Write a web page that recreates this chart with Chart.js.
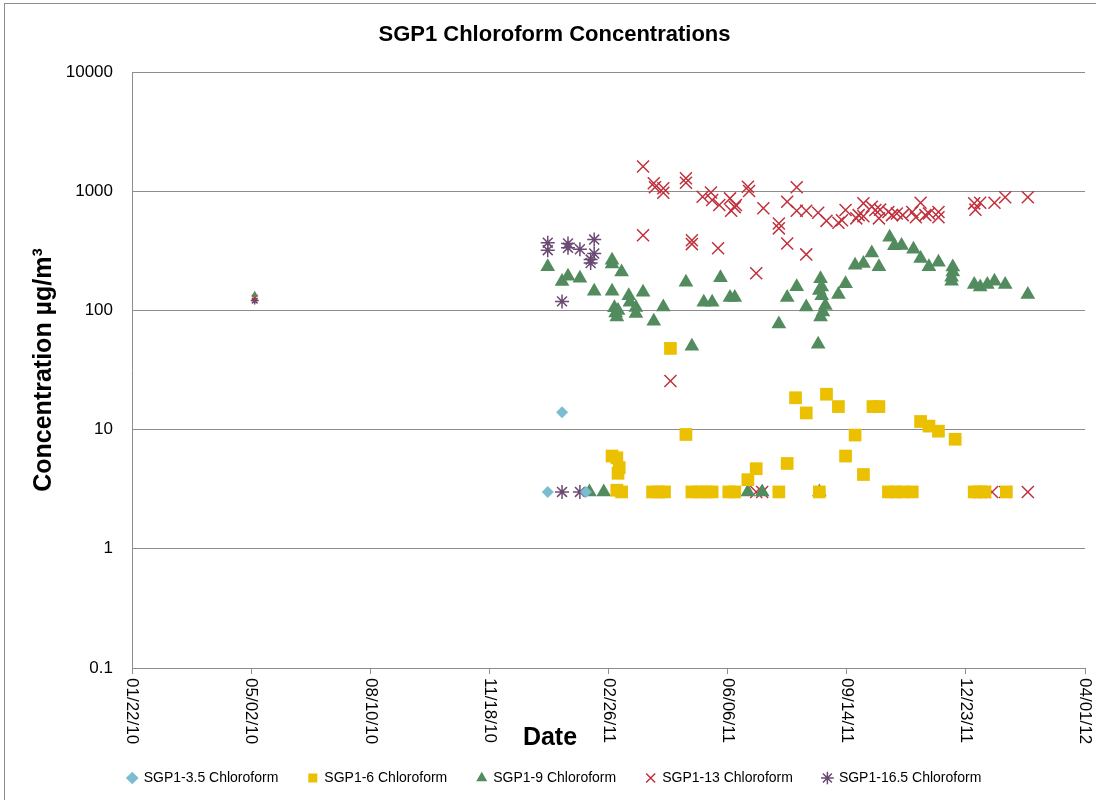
<!DOCTYPE html>
<html>
<head>
<meta charset="utf-8">
<script src="https://cdn.jsdelivr.net/npm/chart.js"></script>
<style>
  html, body { margin:0; padding:0; background:#fff; }
  #wrap { position:relative; width:1096px; height:800px; overflow:hidden; }
  #frame { position:absolute; left:4px; top:3px; width:1100px; height:800px; border:1px solid #8c8c8c; }
  canvas { position:absolute; left:0; top:0; }
</style>
</head>
<body>
<div id="wrap"><div id="frame"></div><canvas id="c" width="1096" height="800"></canvas></div>
<script>
// ---- data ----
const chartTitle = 'SGP1 Chloroform Concentrations';
const yTitle = 'Concentration µg/m³';
const xTitle = 'Date';
const yTicks = [0.1, 1, 10, 100, 1000, 10000];
const xFirst = '2010-01-22', xLast = '2012-04-01', xStepDays = 100;

const labels = ['SGP1-3.5 Chloroform', 'SGP1-6 Chloroform', 'SGP1-9 Chloroform', 'SGP1-13 Chloroform', 'SGP1-16.5 Chloroform'];

const d35 = ['2011-01-06', '2011-01-18', '2011-02-07'];
const v35 = [3, 14, 3];

const d6 = ['2011-03-01', '2011-03-05', '2011-03-07', '2011-03-06', '2011-03-05', '2011-03-09',
  '2011-04-04', '2011-04-09', '2011-04-14', '2011-04-19', '2011-05-02', '2011-05-07', '2011-05-13',
  '2011-05-19', '2011-05-24', '2011-06-07', '2011-06-12', '2011-06-23', '2011-06-30', '2011-07-19',
  '2011-07-26', '2011-08-02', '2011-08-11', '2011-08-22', '2011-08-28', '2011-09-07', '2011-09-13',
  '2011-09-21', '2011-09-28', '2011-10-06', '2011-10-11', '2011-10-19', '2011-10-25', '2011-10-31',
  '2011-11-08', '2011-11-15', '2011-11-22', '2011-11-30', '2011-12-14', '2011-12-30', '2012-01-03',
  '2012-01-08', '2012-01-26'];
const v6 = [6.0, 5.8, 4.8, 4.3, 3.1, 3,
  3, 3, 3, 48, 9.1, 3, 3,
  3, 3, 3, 3, 3.8, 4.7, 3,
  5.2, 18.5, 13.8, 3, 19.8, 15.6, 6.0,
  9.0, 4.2, 15.6, 15.6, 3, 3, 3,
  3, 11.7, 10.7, 9.7, 8.3, 3, 3,
  3, 3];

const d9 = ['2010-05-05', '2011-01-06', '2011-01-18', '2011-01-23', '2011-02-02', '2011-02-10', '2011-02-14',
  '2011-02-22', '2011-03-01', '2011-03-01', '2011-03-01', '2011-03-03', '2011-03-04', '2011-03-05',
  '2011-03-06', '2011-03-09', '2011-03-15', '2011-03-16', '2011-03-21', '2011-03-21', '2011-03-27',
  '2011-04-05', '2011-04-13', '2011-05-02', '2011-05-07', '2011-05-17', '2011-05-24', '2011-05-31',
  '2011-06-08', '2011-06-12', '2011-06-23', '2011-07-05', '2011-07-19', '2011-07-26', '2011-08-03',
  '2011-08-11', '2011-08-21', '2011-08-22', '2011-08-23', '2011-08-24', '2011-08-22', '2011-08-24',
  '2011-08-27', '2011-08-25', '2011-08-23', '2011-09-07', '2011-09-13', '2011-09-21', '2011-09-28',
  '2011-10-05', '2011-10-11', '2011-10-20', '2011-10-24', '2011-10-30', '2011-11-09', '2011-11-15',
  '2011-11-22', '2011-11-30', '2011-12-11', '2011-12-11', '2011-12-12', '2011-12-12', '2011-12-30',
  '2012-01-04', '2012-01-10', '2012-01-16', '2012-01-25', '2012-02-13'];
const v9 = [135, 232, 175, 193, 186, 3, 145,
  3, 263, 245, 145, 105, 95, 88,
  100, 210, 133, 117, 106, 94, 142,
  81, 107, 172, 50, 117, 117, 188,
  128, 128, 3, 3, 77, 128, 158,
  107, 52, 3, 184, 157, 147, 133,
  110, 97, 88, 136, 167, 239, 247,
  303, 232, 410, 348, 350, 326, 272,
  232, 254, 190, 176, 231, 210, 165,
  157, 165, 176, 165, 136];

const d13 = ['2010-05-05', '2011-03-27', '2011-03-27', '2011-04-05', '2011-04-06', '2011-04-13', '2011-04-13',
  '2011-04-19', '2011-05-02', '2011-05-02', '2011-05-07', '2011-05-07', '2011-05-16', '2011-05-23',
  '2011-05-24', '2011-05-29', '2011-05-30', '2011-06-08', '2011-06-09', '2011-06-12', '2011-06-13',
  '2011-06-23', '2011-06-24', '2011-06-30', '2011-07-06', '2011-07-19', '2011-07-19', '2011-07-26',
  '2011-07-26', '2011-08-03', '2011-08-03', '2011-08-11', '2011-08-11', '2011-08-21', '2011-08-28',
  '2011-09-07', '2011-09-10', '2011-09-13', '2011-09-22', '2011-09-24', '2011-09-28', '2011-09-28',
  '2011-10-05', '2011-10-08', '2011-10-11', '2011-10-12', '2011-10-19', '2011-10-22', '2011-10-26',
  '2011-10-31', '2011-11-08', '2011-11-11', '2011-11-15', '2011-11-19', '2011-11-22', '2011-11-30',
  '2011-11-30', '2011-12-30', '2011-12-31', '2012-01-04', '2012-01-16', '2012-01-25', '2012-02-13',
  '2011-06-30', '2011-07-05', '2012-01-04', '2012-01-08', '2012-01-14', '2012-01-25', '2012-02-13'];
const v13 = [128, 1609, 427, 1166, 1080, 1058, 972,
  25.6, 1283, 1178, 388, 360, 899, 975,
  843, 332, 765, 870, 685, 735, 765,
  1091, 1005, 205, 720, 536, 488, 816,
  364, 1080, 685, 685, 295, 659, 564,
  544, 570, 695, 592, 630, 791, 617,
  740, 695, 592, 700, 670, 630, 650,
  630, 670, 605, 800, 630, 650, 670,
  605, 791, 700, 800, 800, 889, 889,
  3, 3, 3, 3, 3, 3, 3];

const d165 = ['2010-05-05', '2011-01-06', '2011-01-06', '2011-01-18', '2011-01-18', '2011-01-23', '2011-01-23',
  '2011-02-02', '2011-02-02', '2011-02-11', '2011-02-11', '2011-02-14', '2011-02-14'];
const v165 = [121, 370, 320, 119, 3, 364, 335,
  326, 3, 267, 250, 393, 300];

// ---- helpers ----
const DAY = 864e5;
function serial(s) {
  const [y, m, d] = s.split('-').map(Number);
  return Math.round((Date.UTC(y, m - 1, d) - Date.UTC(1899, 11, 30)) / DAY);
}
function fmtDate(n) {
  const dt = new Date(Date.UTC(1899, 11, 30) + n * DAY);
  const p = v => String(v).padStart(2, '0');
  return p(dt.getUTCMonth() + 1) + '/' + p(dt.getUTCDate()) + '/' + p(dt.getUTCFullYear() % 100);
}
const pts = (ds, vs) => ds.map((d, i) => ({ x: serial(d), y: vs[i] }));
const earlyCut = serial('2010-12-01');
const FONT = '"Liberation Sans", Arial, sans-serif';

function ds(i, dates, vals, style, color, r, filled) {
  return {
    label: labels[i],
    data: pts(dates, vals),
    pointStyle: style,
    backgroundColor: filled ? color : 'rgba(0,0,0,0)',
    borderColor: color,
    borderWidth: filled ? 0 : 1.5,
    pointRadius: c => (c.raw && c.raw.x < earlyCut ? 4 : r),
    pointHoverRadius: r
  };
}

const xLabelsPlugin = {
  id: 'xlabels',
  afterDraw(chart) {
    const { ctx, chartArea } = chart;
    const x = chart.scales.x;
    ctx.save();
    ctx.fillStyle = '#000';
    ctx.font = '17px ' + FONT;
    ctx.textAlign = 'left';
    ctx.textBaseline = 'middle';
    x.ticks.forEach(t => {
      const px = x.getPixelForValue(t.value);
      ctx.save();
      ctx.translate(px, chartArea.bottom + 10);
      ctx.rotate(Math.PI / 2);
      ctx.fillText(fmtDate(t.value), 0, 0);
      ctx.restore();
    });
    ctx.font = 'bold 25px ' + FONT;
    ctx.textAlign = 'center';
    ctx.fillText(xTitle, chartArea.left + 418, chartArea.bottom + 70);
    ctx.restore();
  }
};

new Chart(document.getElementById('c'), {
  type: 'scatter',
  data: {
    datasets: [
      ds(0, d35, v35, 'rectRot', '#7cbcd0', 6, true),
      ds(1, d6, v6, 'rect', '#ebc000', 9, true),
      ds(2, d9, v9, 'triangle', '#528b5e', 8.5, true),
      ds(3, d13, v13, 'crossRot', '#c0313d', 8.5, false),
      ds(4, d165, v165, 'star', '#6a4a72', 7, false)
    ]
  },
  options: {
    responsive: false,
    animation: false,
    devicePixelRatio: 1,
    layout: { padding: { left: 24, right: 11, top: 0, bottom: 5 } },
    plugins: {
      title: {
        display: true, text: chartTitle, color: '#000',
        font: { family: FONT, size: 22, weight: 'bold' },
        padding: { top: 22, bottom: 23.6 }
      },
      legend: {
        position: 'bottom',
        labels: {
          usePointStyle: true, boxWidth: 9, boxHeight: 9, padding: 30,
          color: '#000', font: { family: FONT, size: 14 }
        }
      },
      tooltip: { enabled: false }
    },
    scales: {
      x: {
        type: 'linear',
        min: serial(xFirst), max: serial(xLast),
        ticks: { stepSize: xStepDays, display: false },
        grid: { drawOnChartArea: false, drawTicks: true, tickLength: 6, color: '#8c8c8c' },
        border: { color: '#8c8c8c' },
        afterFit: s => { s.height = 73; }
      },
      y: {
        type: 'logarithmic',
        min: yTicks[0], max: yTicks[yTicks.length - 1],
        afterBuildTicks: s => { s.ticks = yTicks.map(v => ({ value: v })); },
        ticks: {
          color: '#000', padding: 19,
          font: { family: FONT, size: 17 },
          callback: v => String(v)
        },
        grid: { color: '#8c8c8c', drawTicks: false },
        border: { color: '#8c8c8c' },
        title: {
          display: true, text: yTitle, color: '#000',
          font: { family: FONT, size: 25, weight: 'bold' },
          padding: { top: 5, bottom: 0 }
        },
        afterFit: s => { s.width = 108; }
      }
    }
  },
  plugins: [xLabelsPlugin]
});
</script>
</body>
</html>
